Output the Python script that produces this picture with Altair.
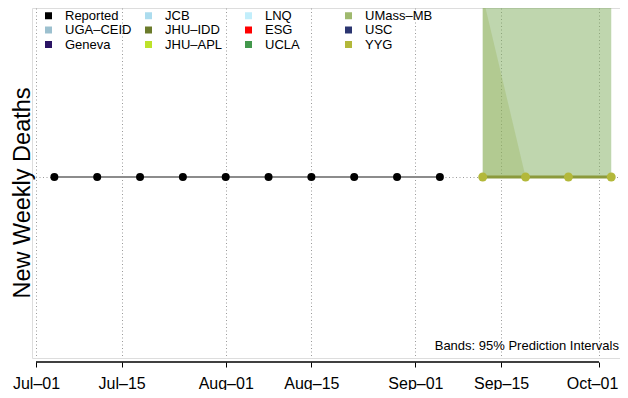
import altair as alt
import pandas as pd
from datetime import datetime, timezone, timedelta

# ---------------- data ----------------
reported_dates = ["2020-07-04", "2020-07-11", "2020-07-18", "2020-07-25", "2020-08-01",
                  "2020-08-08", "2020-08-15", "2020-08-22", "2020-08-29", "2020-09-05"]
reported_deaths = [0, 0, 0, 0, 0, 0, 0, 0, 0, 0]

forecast_dates = ["2020-09-12", "2020-09-19", "2020-09-26", "2020-10-03"]
forecast_deaths = [0, 0, 0, 0]

umass_lower = [0, 0, 0, 0]
umass_upper = [1.0, 1.0, 1.0, 1.0]
yyg_lower = [0, 0, 0, 0]
yyg_upper = [1.07, 0, 0, 0]

models = ["Reported", "UGA-CEID", "Geneva", "JCB", "JHU-IDD", "JHU-APL",
          "LNQ", "ESG", "UCLA", "UMass-MB", "USC", "YYG"]
model_colors = ["#000000", "#9cc0cf", "#2b1464", "#acdcee", "#6b7b2b", "#bde22a",
                "#c2eefb", "#ff0000", "#43984c", "#9fb96e", "#2b3570", "#b3b83a"]

tick_dates = ["2020-07-01", "2020-07-15", "2020-08-01", "2020-08-15",
              "2020-09-01", "2020-09-15", "2020-10-01"]
note_text = "Bands: 95% Prediction Intervals"
y_title = "New Weekly Deaths"

# ---------------- layout ----------------
W, H = 588, 350
FONT = "Liberation Sans"


def ms(s):
    return int(datetime.fromisoformat(s).replace(tzinfo=timezone.utc).timestamp() * 1000)


px_per_day = 563 / 92.0
t0 = datetime(2020, 7, 1, tzinfo=timezone.utc) - timedelta(days=4 / px_per_day)
t1 = t0 + timedelta(days=W / px_per_day)
x_scale = alt.Scale(type="utc", domain=[int(t0.timestamp() * 1000), int(t1.timestamp() * 1000)])
y_scale = alt.Scale(domain=[-1.071, 1.0], nice=False, zero=False)

last_tick = ms(tick_dates[-1])
x_axis = alt.Axis(
    values=[ms(d) for d in tick_dates],
    labelExpr="utcFormat(datum.value, '%b') + '–' + utcFormat(datum.value, '%d')",
    domain=False, ticks=True, tickSize=5, tickColor="black", tickWidth=1,
    labelFont=FONT, labelFontSize=16, labelColor="black", labelPadding=8,
    labelOffset={"condition": {"test": f"datum.value >= {last_tick}", "value": -7}, "value": 0},
    labelFlush=False, labelOverlap=False, offset=4,
    grid=True, gridDash=[1, 2.5], gridColor="#9a9a9a", gridWidth=1, title=None,
)
y_axis = alt.Axis(
    values=[0], domain=False, ticks=False, labels=False,
    grid=True, gridDash=[1, 2.5], gridColor="#9a9a9a", gridWidth=1,
    title=y_title, titleFont=FONT, titleFontSize=23.5, titleFontWeight="normal",
    titleColor="black", titleAngle=270, titleX=-2.5, titleY=184.5,
    titleAlign="center", titleBaseline="alphabetic",
)

X = alt.X("date:T", scale=x_scale, axis=x_axis)

# Vega fills a multi-column legend column by column, like R's legend
legend = alt.Legend(
    orient="none", legendX=10, legendY=1, columns=4, title=None,
    symbolType="square", symbolSize=49, symbolStrokeWidth=0, symbolOpacity=1,
    labelFont=FONT, labelFontSize=13, labelColor="black", labelOffset=10,
    columnPadding=9, rowPadding=0.5, gridAlign="all", padding=0,
    labelExpr="replace(datum.label, '-', '–')",
)
COLOR = alt.Color("model:N", scale=alt.Scale(domain=models, range=model_colors), legend=legend)

rep_df = pd.DataFrame({"date": reported_dates, "value": reported_deaths, "model": "Reported"})
fc_df = pd.DataFrame({"date": forecast_dates, "value": forecast_deaths, "model": "YYG"})
umass_df = pd.DataFrame({"date": forecast_dates, "lower": umass_lower, "upper": umass_upper})
yyg_df = pd.DataFrame({"date": forecast_dates, "lower": yyg_lower, "upper": yyg_upper})
axis_df = pd.DataFrame({"date": [tick_dates[0]], "end": [tick_dates[-1]]})
note_df = pd.DataFrame({"text": [note_text]})

band_a = alt.Chart(umass_df).mark_area(clip=True, opacity=0.5, color="#80ae5e").encode(
    x=X, y=alt.Y("upper:Q", scale=y_scale, axis=y_axis), y2="lower:Q")
band_b = alt.Chart(yyg_df).mark_area(clip=True, opacity=0.3, color="#94ae51").encode(
    x=X, y=alt.Y("upper:Q", scale=y_scale, axis=y_axis), y2="lower:Q")

rep_line = alt.Chart(rep_df).mark_line(color="#8c8c8c", strokeWidth=2).encode(
    x=X, y=alt.Y("value:Q", scale=y_scale, axis=y_axis))
fc_line = alt.Chart(fc_df).mark_line(color="#8b9a3b", strokeWidth=3).encode(
    x=X, y=alt.Y("value:Q", scale=y_scale, axis=y_axis))

rep_pts = alt.Chart(rep_df).mark_circle(size=64, opacity=1).encode(
    x=X, y=alt.Y("value:Q", scale=y_scale, axis=y_axis), color=COLOR)
fc_pts = alt.Chart(fc_df).mark_circle(size=80, opacity=1).encode(
    x=X, y=alt.Y("value:Q", scale=y_scale, axis=y_axis), color=COLOR)

axis_line = alt.Chart(axis_df).mark_rule(color="black", strokeWidth=1.5).encode(
    x=X, x2="end:T", y=alt.value(H + 4))

note = alt.Chart(note_df).mark_text(
    align="right", baseline="middle", font=FONT, fontSize=13, color="black"
).encode(text="text:N", x=alt.value(W - 1), y=alt.value(338))

chart = alt.layer(band_a, band_b, rep_line, fc_line, rep_pts, fc_pts, axis_line, note).properties(
    width=W, height=H,
    autosize=alt.AutoSizeParams(type="none"),
    padding={"left": 24, "top": 0, "right": 0, "bottom": 32},
).configure_view(stroke=None).configure(font=FONT)

chart.save("out.html", embed_options={"renderer": "svg", "actions": False})
